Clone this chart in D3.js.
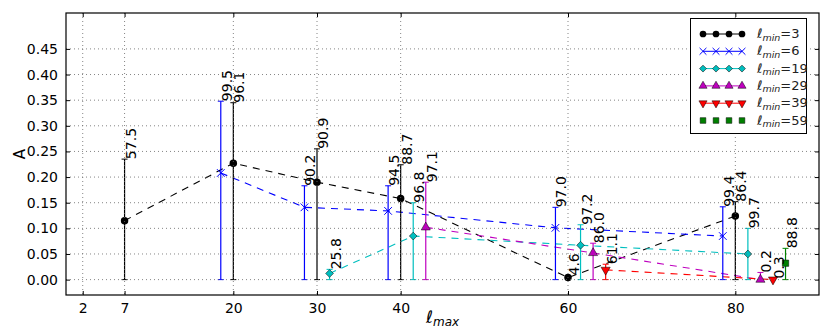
<!DOCTYPE html>
<html>
<head>
<meta charset="utf-8">
<script src="https://cdn.jsdelivr.net/npm/d3@7"></script>
<style>
  body { margin: 0; background: #fff; }
  text { font-family: "DejaVu Sans", sans-serif; }
</style>
</head>
<body>
<svg id="chart" width="830" height="332"></svg>
<script>
// ticks
const xTicks = [2, 7, 20, 30, 40, 60, 80];
const yTicks = [0, 0.05, 0.10, 0.15, 0.20, 0.25, 0.30, 0.35, 0.40, 0.45];

// l_min = 3
const x3 = [7, 20, 30, 40, 60, 80];
const y3 = [0.115, 0.227, 0.190, 0.158, 0.004, 0.124];
const top3 = [0.235, 0.345, 0.255, 0.224, 0.008, 0.152];
const lbl3 = ["57.5", "96.1", "90.9", "88.7", "4.6", "86.4"];

// l_min = 6
const x6 = [18.5, 28.5, 38.5, 58.5, 78.5];
const y6 = [0.208, 0.141, 0.134, 0.101, 0.085];
const top6 = [0.348, 0.183, 0.183, 0.141, 0.142];
const lbl6 = ["99.5", "90.2", "94.5", "97.0", "99.4"];

// l_min = 19
const x19 = [31.5, 41.5, 61.5, 81.5];
const y19 = [0.012, 0.085, 0.067, 0.050];
const top19 = [0.020, 0.150, 0.107, 0.100];
const lbl19 = ["25.8", "96.8", "97.2", "99.7"];

// l_min = 29
const x29 = [43, 63, 83];
const y29 = [0.102, 0.052, 0.0];
const top29 = [0.190, 0.071, 0.014];
const lbl29 = ["97.1", "86.0", "0.2"];

// l_min = 39
const x39 = [64.5, 84.5];
const y39 = [0.019, 0.0];
const top39 = [0.030, 0.002];
const lbl39 = ["61.1", "0.3"];

// l_min = 59
const x59 = [86];
const y59 = [0.032];
const top59 = [0.061];
const lbl59 = ["88.8"];

const series = [
  { lmin: 3,  xs: x3,  ys: y3,  tops: top3,  lbls: lbl3,  color: "#000000", shape: "circle",  line: true },
  { lmin: 6,  xs: x6,  ys: y6,  tops: top6,  lbls: lbl6,  color: "#0000ff", shape: "x",       line: true },
  { lmin: 19, xs: x19, ys: y19, tops: top19, lbls: lbl19, color: "#00bfbf", shape: "diamond", line: true },
  { lmin: 29, xs: x29, ys: y29, tops: top29, lbls: lbl29, color: "#bf00bf", shape: "triUp",   line: true },
  { lmin: 39, xs: x39, ys: y39, tops: top39, lbls: lbl39, color: "#ff0000", shape: "triDown", line: true },
  { lmin: 59, xs: x59, ys: y59, tops: top59, lbls: lbl59, color: "#008000", shape: "square",  line: false }
];

const svg = d3.select("#chart");
svg.append("rect").attr("width", 830).attr("height", 332).attr("fill", "#fff");

const mLeft = 66, mRight = 819, mTop = 13, mBottom = 295;

const xScale = d3.scaleLinear().domain([0, 90]).range([mLeft, mRight]);
const yScale = d3.scaleLinear().domain([-0.03, 0.52]).range([mBottom, mTop]);

// marker paths
function markerPath(shape, k) {
  if (shape === "circle") return d3.symbol(d3.symbolCircle, 44 * k)();
  if (shape === "x") return d3.symbol(d3.symbolTimes, 40 * k)();
  if (shape === "diamond") return d3.symbol(d3.symbolSquare, 30 * k)();
  if (shape === "triUp") return d3.symbol(d3.symbolTriangle, 36 * k)();
  if (shape === "triDown") return d3.symbol(d3.symbolTriangle, 36 * k)();
  return d3.symbol(d3.symbolSquare, 40 * k)();
}
function markerRot(shape) {
  if (shape === "diamond") return " rotate(45)";
  if (shape === "triDown") return " rotate(180)";
  return "";
}
function drawMarker(g, shape, color, cx, cy, k = 1) {
  const p = g.append("path")
    .attr("d", markerPath(shape, k))
    .attr("transform", `translate(${cx},${cy})` + markerRot(shape));
  if (shape === "x") {
    p.attr("fill", "none").attr("stroke", color).attr("stroke-width", 1);
  } else if (shape === "circle") {
    p.attr("fill", color);
  } else {
    p.attr("fill", color).attr("stroke", "#000").attr("stroke-width", 0.5);
  }
}

const plot = svg.append("g");

// dashed connecting lines
const line = d3.line().x(d => xScale(d[0])).y(d => yScale(d[1]));
series.forEach(s => {
  if (!s.line) return;
  plot.append("path")
    .datum(s.xs.map((v, i) => [v, s.ys[i]]))
    .attr("fill", "none")
    .attr("stroke", s.color)
    .attr("stroke-width", 1.1)
    .attr("stroke-dasharray", "7,6")
    .attr("d", line);
});

// error bars from 0 up to top value
series.forEach(s => {
  s.xs.forEach((v, i) => {
    const bx = xScale(v), y0 = yScale(0), y1 = yScale(s.tops[i]);
    plot.append("line").attr("x1", bx).attr("x2", bx).attr("y1", y0).attr("y2", y1)
      .attr("stroke", s.color).attr("stroke-width", 1.2);
    [y0, y1].forEach(cy => {
      plot.append("line").attr("x1", bx - 3).attr("x2", bx + 3).attr("y1", cy).attr("y2", cy)
        .attr("stroke", s.color).attr("stroke-width", 1);
    });
  });
});

// markers
series.forEach(s => {
  s.xs.forEach((v, i) => drawMarker(plot, s.shape, s.color, xScale(v), yScale(s.ys[i])));
});

// grid (drawn above data, dotted)
const grid = svg.append("g").attr("stroke", "#666").attr("stroke-width", 0.8).attr("stroke-dasharray", "1,3");
xTicks.forEach(t => grid.append("line").attr("x1", xScale(t)).attr("x2", xScale(t)).attr("y1", mTop).attr("y2", mBottom));
yTicks.forEach(t => grid.append("line").attr("x1", mLeft).attr("x2", mRight).attr("y1", yScale(t)).attr("y2", yScale(t)));

// value labels, rotated, starting at the bar top
series.forEach(s => {
  s.xs.forEach((v, i) => {
    const tx = xScale(v) + 11, ty = yScale(s.tops[i]);
    svg.append("text")
      .attr("transform", `translate(${tx},${ty}) rotate(-90)`)
      .attr("font-size", 14)
      .attr("fill", "#000")
      .text(s.lbls[i]);
  });
});

// axes
const fmtY = d3.format(".2f");
const gx = svg.append("g").attr("transform", `translate(0,${mBottom})`)
  .call(d3.axisBottom(xScale).tickValues(xTicks).tickSize(-4).tickPadding(8).tickFormat(d3.format("d")));
const gxT = svg.append("g").attr("transform", `translate(0,${mTop})`)
  .call(d3.axisTop(xScale).tickValues(xTicks).tickSize(-4).tickFormat(""));
const gy = svg.append("g").attr("transform", `translate(${mLeft},0)`)
  .call(d3.axisLeft(yScale).tickValues(yTicks).tickSize(-4).tickPadding(8).tickFormat(fmtY));
const gyR = svg.append("g").attr("transform", `translate(${mRight},0)`)
  .call(d3.axisRight(yScale).tickValues(yTicks).tickSize(-4).tickFormat(""));
[gx, gxT, gy, gyR].forEach(g => {
  g.select(".domain").remove();
  g.selectAll("text").attr("font-size", 14).attr("font-family", "DejaVu Sans").attr("fill", "#000");
});

svg.append("rect")
  .attr("x", mLeft).attr("y", mTop).attr("width", mRight - mLeft).attr("height", mBottom - mTop)
  .attr("fill", "none").attr("stroke", "#000").attr("stroke-width", 1.2);

// axis titles
svg.append("text")
  .attr("transform", "translate(25,154) rotate(-90)")
  .attr("text-anchor", "middle")
  .attr("font-size", 15)
  .text("A");

const xl = svg.append("text")
  .attr("x", (mLeft + mRight) / 2).attr("y", 323)
  .attr("text-anchor", "middle")
  .attr("font-family", "Liberation Serif")
  .attr("font-style", "italic")
  .attr("font-size", 17);
xl.append("tspan").text("ℓ");
xl.append("tspan").attr("font-size", 12).attr("dy", 3).text("max");

// legend
const lg = svg.append("g");
lg.append("rect").attr("x", 690.5).attr("y", 18.5).attr("width", 116).attr("height", 115)
  .attr("fill", "#fff").attr("stroke", "#000").attr("stroke-width", 1);
series.forEach((s, i) => {
  const ly = 34 + i * 17.3;
  const xs4 = [703, 716, 729, 742];
  if (s.line) {
    lg.append("line").attr("x1", 703).attr("x2", 742).attr("y1", ly).attr("y2", ly)
      .attr("stroke", s.color).attr("stroke-width", 1);
  }
  xs4.forEach(mx => drawMarker(lg, s.shape, s.color, mx, ly, 0.8));
  const t = lg.append("text").attr("x", 757).attr("y", ly + 4)
    .attr("font-family", "Liberation Serif").attr("font-size", 13).attr("fill", "#222");
  t.append("tspan").attr("font-style", "italic").text("ℓ");
  t.append("tspan").attr("font-style", "italic").attr("font-size", 9.5).attr("dy", 2.5).text("min");
  t.append("tspan").attr("dy", -2.5).text("=" + s.lmin);
});
</script>
</body>
</html>
